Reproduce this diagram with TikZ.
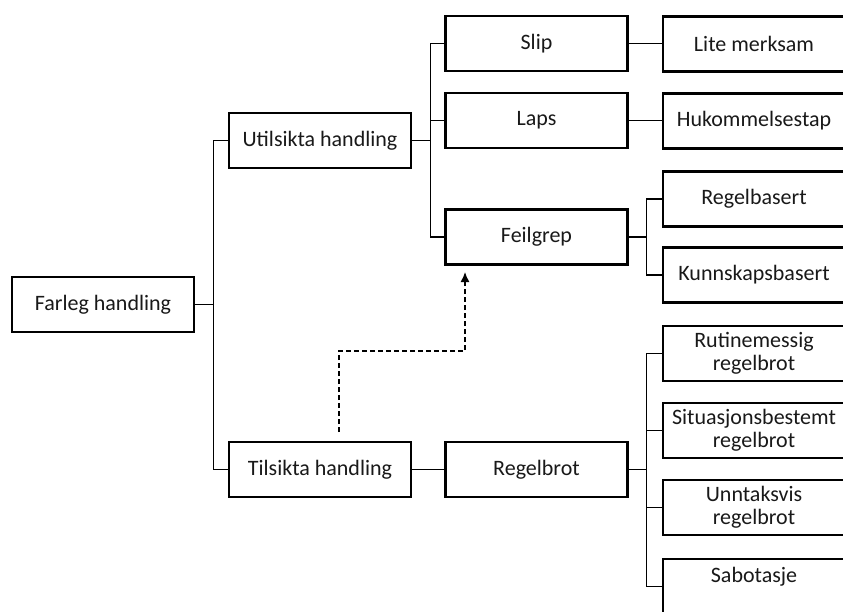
\documentclass[tikz,border=0pt]{standalone}
\usepackage{fontspec}
\setmainfont{Carlito}
\usetikzlibrary{arrows.meta,calc}
\begin{document}
\begin{tikzpicture}[x=0.5pt,y=-0.5pt,
  box/.style={draw=black,line width=1.2pt,fill=white,minimum width=91pt,minimum height=27.5pt,
    inner sep=1pt,align=center,font=\fontsize{11}{11.6}\selectfont,text=black!90},
  conn/.style={draw=black,line width=0.7pt},
  dashconn/.style={draw=black,line width=0.7pt,dash pattern=on 2.5pt off 1.5pt,-{Latex[length=5pt,width=4.5pt]}}]
\clip (0,0) rectangle (843,612);
\fill[white] (0,0) rectangle (843,612);
% nodes
\node[box] (far) at (103,304.5) {Farleg handling};
\node[box] (uts) at (320,140.5) {Utilsikta handling};
\node[box] (tis) at (320,469.5) {Tilsikta handling};
\node[box] (slip) at (536.5,43.5) {Slip};
\node[box] (laps) at (536.5,120.5) {Laps};
\node[box] (feil) at (536.5,237) {Feilgrep};
\node[box] (regb) at (536.5,469.5) {Regelbrot};
\node[box] (lite) at (754,44) {Lite merksam};
\node[box] (huk) at (754,121) {Hukommelsestap};
\node[box] (regel) at (754,199) {Regelbasert};
\node[box] (kunn) at (754,275) {Kunnskapsbasert};
\node[box] (rut) at (754,353.5) {Rutinemessig\\regelbrot};
\node[box] (sit) at (754,430.5) {Situasjonsbestemt\\regelbrot};
\node[box] (unn) at (754,507.5) {Unntaksvis\\regelbrot};
\node[box] (sab) at (754,586.5) {Sabotasje\\\mbox{}};
% connectors
\draw[conn] (far.east) -- ++(18,0) |- (uts.west);
\draw[conn] (far.east) -- ++(18,0) |- (tis.west);
\draw[conn] (uts.east) -- ++(18,0) |- (slip.west);
\draw[conn] (uts.east) -- ++(18,0) |- (laps.west);
\draw[conn] (uts.east) -- ++(18,0) |- (feil.west);
\draw[conn] (tis.east) -- (regb.west);
\draw[conn] (slip.east) -- (slip.east -| lite.west);
\draw[conn] (laps.east) -- (laps.east -| huk.west);
\draw[conn] (feil.east) -- ++(18,0) |- (regel.west);
\draw[conn] (feil.east) -- ++(18,0) |- (kunn.west);
\draw[conn] (regb.east) -- ++(18,0) |- (rut.west);
\draw[conn] (regb.east) -- ++(18,0) |- (sit.west);
\draw[conn] (regb.east) -- ++(18,0) |- (unn.west);
\draw[conn] (regb.east) -- ++(18,0) |- (sab.west);
% dashed arrow
\coordinate (ds) at (339,432);
\coordinate (de) at (465,272);
\draw[dashconn] (ds) -- (339,351) -- (465,351) -- (de);
\end{tikzpicture}
\end{document}
